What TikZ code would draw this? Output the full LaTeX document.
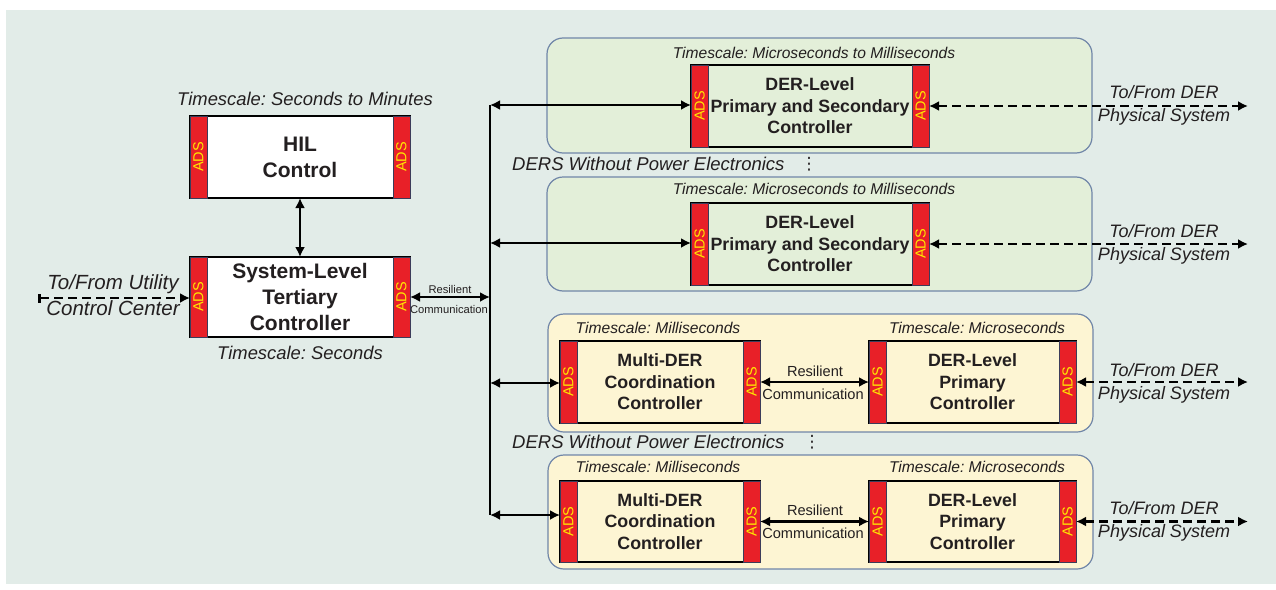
\documentclass[tikz,border=0pt]{standalone}
\usepackage{fontspec}
\setmainfont{Liberation Sans}
\newfontfamily\symfont{DejaVu Sans}
\usepackage{graphicx}
\usetikzlibrary{arrows.meta}
\frenchspacing
\definecolor{bgc}{RGB}{226,236,232}
\definecolor{pgreen}{RGB}{227,239,217}
\definecolor{pyellow}{RGB}{253,245,211}
\definecolor{pedge}{RGB}{112,134,168}
\definecolor{adsred}{RGB}{232,32,40}
\definecolor{adsyellow}{RGB}{255,232,0}
\definecolor{adsedge}{RGB}{60,60,90}
\definecolor{txt}{RGB}{35,31,32}
\newcommand{\fsz}[2]{\fontsize{#1}{#2}\selectfont}
\begin{document}
\frenchspacing
\begin{tikzpicture}[x=1pt,y=-1pt,
  ctrlbox/.style={draw=black, line width=2.6, outer sep=0, inner sep=0, align=center, text=txt},
  whitebox/.style={ctrlbox, fill=white},
  greenbox/.style={ctrlbox, fill=pgreen},
  yellowbox/.style={ctrlbox, fill=pyellow},
  adsbar/.style={fill=adsred, draw=adsedge, line width=0.8, minimum width=17, inner sep=0, outer sep=0, text=adsyellow, font=\fsz{14.5}{15}},
  panelg/.style={draw=pedge, line width=1.2, fill=pgreen, rounded corners=16, inner sep=0},
  panely/.style={draw=pedge, line width=1.2, fill=pyellow, rounded corners=16, inner sep=0},
  conn/.style={line width=2.8, {Latex[length=10pt,width=10pt]}-{Latex[length=10pt,width=10pt]}},
  dconn/.style={conn, dash pattern=on 9pt off 5pt},
  tsL/.style={font=\fsz{18.4}{22}\itshape, text=txt, inner sep=0},
  tsS/.style={font=\fsz{15.6}{18}\itshape, text=txt, inner sep=0},
  lbl/.style={font=\fsz{18}{23}\itshape, text=txt, align=center, inner sep=0},
  resS/.style={font=\fsz{14.6}{17}, text=txt, inner sep=0},
  boxL/.style={font=\fsz{21}{26}\bfseries},
  boxS/.style={font=\fsz{17.8}{21.5}\bfseries},
  vdot/.style={text=txt, inner sep=0, font=\symfont\fsz{17}{17}}
]
\useasboundingbox (0,0) rectangle (1276,589);
\fill[white] (0,0) rectangle (1276,589);
\fill[bgc] (6,10) rectangle (1276,584);

% panels
\node[panelg, minimum width=545, minimum height=115] (p1) at (819.5,95.5) {};
\node[panelg, minimum width=545, minimum height=114] (p2) at (819.5,234) {};
\node[panely, minimum width=545, minimum height=118] (p3) at (820.5,373) {};
\node[panely, minimum width=545, minimum height=114] (p4) at (820.5,512) {};

% left boxes
\node[whitebox, boxL, minimum width=220, minimum height=82] (hil) at (300,157) {HIL\\Control};
\node[whitebox, boxL, minimum width=220, minimum height=80] (sys) at (300,297) {System-Level\\Tertiary\\Controller};
\node[adsbar, minimum height=82, anchor=west] (hilL) at (hil.west) {\rotatebox{90}{ADS}};
\node[adsbar, minimum height=82, anchor=east] (hilR) at (hil.east) {\rotatebox{90}{ADS}};
\node[adsbar, minimum height=80, anchor=west] (sysL) at (sys.west) {\rotatebox{90}{ADS}};
\node[adsbar, minimum height=80, anchor=east] (sysR) at (sys.east) {\rotatebox{90}{ADS}};

% panel 1 and 2 boxes
\node[greenbox, boxS, minimum width=238, minimum height=82] (d1) at (810,106) {DER-Level\\Primary and Secondary\\Controller};
\node[adsbar, minimum height=82, anchor=west] (d1L) at (d1.west) {\rotatebox{90}{ADS}};
\node[adsbar, minimum height=82, anchor=east] (d1R) at (d1.east) {\rotatebox{90}{ADS}};
\node[greenbox, boxS, minimum width=238, minimum height=82] (d2) at (810,244) {DER-Level\\Primary and Secondary\\Controller};
\node[adsbar, minimum height=82, anchor=west] (d2L) at (d2.west) {\rotatebox{90}{ADS}};
\node[adsbar, minimum height=82, anchor=east] (d2R) at (d2.east) {\rotatebox{90}{ADS}};

% panel 3 boxes
\node[yellowbox, boxS, minimum width=200, minimum height=82] (m3) at (660,382) {Multi-DER\\Coordination\\Controller};
\node[adsbar, minimum height=82, anchor=west] (m3L) at (m3.west) {\rotatebox{90}{ADS}};
\node[adsbar, minimum height=82, anchor=east] (m3R) at (m3.east) {\rotatebox{90}{ADS}};
\node[yellowbox, boxS, minimum width=207, minimum height=82] (d3) at (972.5,382) {DER-Level\\Primary\\Controller};
\node[adsbar, minimum height=82, anchor=west] (d3L) at (d3.west) {\rotatebox{90}{ADS}};
\node[adsbar, minimum height=82, anchor=east] (d3R) at (d3.east) {\rotatebox{90}{ADS}};

% panel 4 boxes
\node[yellowbox, boxS, minimum width=200, minimum height=81] (m4) at (660,521.5) {Multi-DER\\Coordination\\Controller};
\node[adsbar, minimum height=81, anchor=west] (m4L) at (m4.west) {\rotatebox{90}{ADS}};
\node[adsbar, minimum height=81, anchor=east] (m4R) at (m4.east) {\rotatebox{90}{ADS}};
\node[yellowbox, boxS, minimum width=207, minimum height=81] (d4) at (972.5,521.5) {DER-Level\\Primary\\Controller};
\node[adsbar, minimum height=81, anchor=west] (d4L) at (d4.west) {\rotatebox{90}{ADS}};
\node[adsbar, minimum height=81, anchor=east] (d4R) at (d4.east) {\rotatebox{90}{ADS}};

% coordinates
\coordinate (bt) at (490,105);
\coordinate (b2) at (490,243);
\coordinate (b3) at (490,383);
\coordinate (bb) at (490,515);
\coordinate (util) at (38,298);
\coordinate (e1) at (1248,106);
\coordinate (e2) at (1248,244);
\coordinate (e3) at (1248,382);
\coordinate (e4) at (1248,521.5);

% connectors
\draw[line width=2.8] (bt) -- (bb);
\draw[conn] (bt) -- (bt -| d1L.west);
\draw[conn] (b2) -- (b2 -| d2L.west);
\draw[conn] (b3) -- (b3 -| m3L.west);
\draw[conn] (bb) -- (bb -| m4L.west);
\draw[conn] (hil.south) -- (sys.north);
\draw[conn] (sysR.east) -- (sysR.east -| bt);
\draw[line width=2.8, dash pattern=on 9pt off 5pt, {Bar[width=9pt]}-{Latex[length=10pt,width=10pt]}] (util) -- (util -| sysL.west);
\draw[conn] (m3R.east) -- (d3L.west);
\draw[conn] (m4R.east) -- (d4L.west);
\draw[dconn] (d1R.east) -- (e1);
\draw[dconn] (d2R.east) -- (e2);
\draw[dconn] (d3R.east) -- (e3);
\draw[dconn] (d4R.east) -- (e4);

% texts
\node[tsL] (tHil) at (305,99) {Timescale: Seconds to Minutes};
\node[tsL] (tSys) at (300,353) {Timescale: Seconds};
\node[lbl, font=\fsz{20.5}{26}\itshape] (lUtil) at (113,295) {To/From Utility\\Control Center};
\node[font=\fsz{11.2}{13}, text=txt, inner sep=0] (rs1) at (450,289) {Resilient};
\node[font=\fsz{11.2}{13}, text=txt, inner sep=0] (rs2) at (449,309) {Communication};

\node[tsS] (tp1) at (814,53) {Timescale: Microseconds to Milliseconds};
\node[tsS] (tp2) at (814,189) {Timescale: Microseconds to Milliseconds};
\node[tsS] (tm3) at (658,328) {Timescale: Milliseconds};
\node[tsS] (td3) at (977,328) {Timescale: Microseconds};
\node[tsS] (tm4) at (658,467) {Timescale: Milliseconds};
\node[tsS] (td4) at (977,467) {Timescale: Microseconds};

\node[resS] (r3a) at (815,371) {Resilient};
\node[resS] (r3b) at (813,394) {Communication};
\node[resS] (r4a) at (815,510) {Resilient};
\node[resS] (r4b) at (813,533) {Communication};

\node[lbl] (x1) at (1164,105) {To/From DER\\Physical System};
\node[lbl] (x2) at (1164,244) {To/From DER\\Physical System};
\node[lbl] (x3) at (1164,383) {To/From DER\\Physical System};
\node[lbl] (x4) at (1164,521) {To/From DER\\Physical System};

\node[tsL, anchor=west, font=\fsz{18.5}{22}\itshape] (w1) at (512,164) {DERS Without Power Electronics};
\node[tsL, anchor=west, font=\fsz{18.5}{22}\itshape] (w2) at (512,442) {DERS Without Power Electronics};
\node[vdot] (v1) at (809,164) {⋮};
\node[vdot] (v2) at (812,442) {⋮};
\end{tikzpicture}
\end{document}
